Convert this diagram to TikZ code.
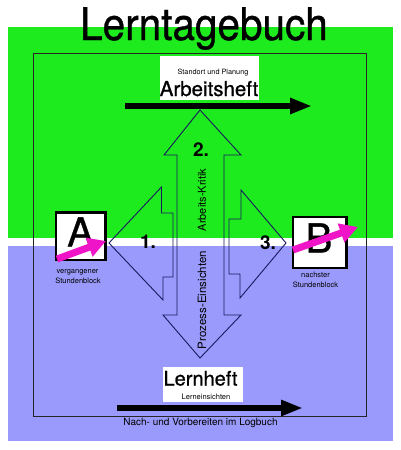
\documentclass[tikz,border=0pt]{standalone}
\usepackage{fontspec}
\setmainfont{TeX Gyre Heros}
\newfontfamily\heavyfont[FakeBold=0.8]{TeX Gyre Heros}
\usetikzlibrary{arrows.meta}
\definecolor{bggreen}{RGB}{30,235,30}
\definecolor{bgblue}{RGB}{154,154,252}
\definecolor{outl}{RGB}{25,25,95}
\definecolor{pinkarrow}{RGB}{240,20,200}
\begin{document}
\begin{tikzpicture}[x=1pt,y=-1pt,
  txt/.style={inner sep=0pt, anchor=base, text=black},
  arrowshape/.style={draw=outl, line width=0.9pt, line join=miter},
  blackarrow/.style={draw=black, line width=6pt, -{Triangle[length=22pt,width=15pt]}},
  letterbox/.style={draw=black, line width=2.5pt, fill=white},
  whitebox/.style={fill=white, draw=none},
  pinkarr/.style={draw=pinkarrow, line width=7pt, -{Triangle[length=18pt,width=19pt]}},
  num/.style={txt, font=\fontsize{19}{19}\selectfont\bfseries},
  small/.style={txt, font=\fontsize{7.5}{7.5}\selectfont}
]
\useasboundingbox (0,0) rectangle (400,450);
\fill[white] (0,0) rectangle (400,450);
% backgrounds
\fill[bggreen] (8,27) rectangle (393,238);
\fill[bgblue] (8,246) rectangle (393,441);
% title
\node[txt, font=\heavyfont\fontsize{45}{45}\selectfont, xscale=0.9] (title) at (204,40) {Lerntagebuch};
% inner frame
\draw[black!85, line width=0.8pt] (33,53) rectangle (366,416);
% white label boxes
\fill[whitebox] (160,56) rectangle (259,100);
\fill[whitebox] (163,367) rectangle (243,402);
\node[txt, font=\fontsize{7.3}{7.3}\selectfont] (standort) at (213,74) {Standort und Planung};
\node[txt, font=\heavyfont\fontsize{20.5}{20.5}\selectfont] (arbeitsheft) at (209,96) {Arbeitsheft};
\node[txt, font=\heavyfont\fontsize{20}{20}\selectfont] (lernheft) at (200.5,385.5) {Lernheft};
\node[small] (lerneinsichten) at (206,399) {Lerneinsichten};
% black arrows
\coordinate (ta1) at (125,106);
\coordinate (ta2) at (312,106);
\draw[blackarrow] (ta1) -- (ta2);
\coordinate (ba1) at (117,408);
\coordinate (ba2) at (303,408);
\draw[blackarrow] (ba1) -- (ba2);
\node[txt, font=\fontsize{10}{10}\selectfont] (logbuch) at (200.5,425.5) {Nach- und Vorbereiten im Logbuch};
% central double arrow
\draw[arrowshape] (200,110) -- (241,155) -- (224,155) -- (224,315) -- (241,315) -- (200,358)
  -- (163,315) -- (177,315) -- (177,155) -- (164,155) -- cycle;
% left arrow 1
\draw[arrowshape] (109,243) -- (161.5,187) -- (161.5,213) -- (173,213) -- (173,277) -- (163,277) -- (163,300) -- cycle;
% right arrow 3
\draw[arrowshape] (286,243) -- (241,190) -- (241,219) -- (229,219) -- (229,274) -- (240,274) -- (240,298) -- cycle;
% numbers
\node[num] (n1) at (148,248) {1.};
\node[num] (n2) at (201,156) {2.};
\node[num] (n3) at (268,249) {3.};
% rotated labels
\node[inner sep=0pt, rotate=90, font=\fontsize{11}{11}\selectfont] (kritik) at (202,200) {Arbeits-Kritik};
\node[inner sep=0pt, rotate=90, font=\fontsize{11.5}{11.5}\selectfont] (prozess) at (202,300) {Prozess-Einsichten};
% box A
\draw[letterbox] (56,212.5) rectangle (105.5,260);
\node[txt, font=\heavyfont\fontsize{40}{40}\selectfont] (A) at (80.5,246.5) {A};
\coordinate (pa1) at (57,259);
\coordinate (pa2) at (106,241);
\draw[pinkarr] (pa1) -- (pa2);
\node[small] (verg) at (77.5,273) {vergangener};
\node[small] (stdA) at (78,283.5) {Stundenblock};
% box B
\draw[letterbox] (293,217) rectangle (346.5,268);
\node[txt, font=\heavyfont\fontsize{40}{40}\selectfont] (B) at (319,252.5) {B};
\coordinate (pb1) at (293,250);
\coordinate (pb2) at (358,227);
\draw[pinkarr] (pb1) -- (pb2);
\node[small] (naechst) at (315.5,277.5) {nachster};
\node[small] (stdB) at (315.5,287.5) {Stundenblock};
\end{tikzpicture}
\end{document}
